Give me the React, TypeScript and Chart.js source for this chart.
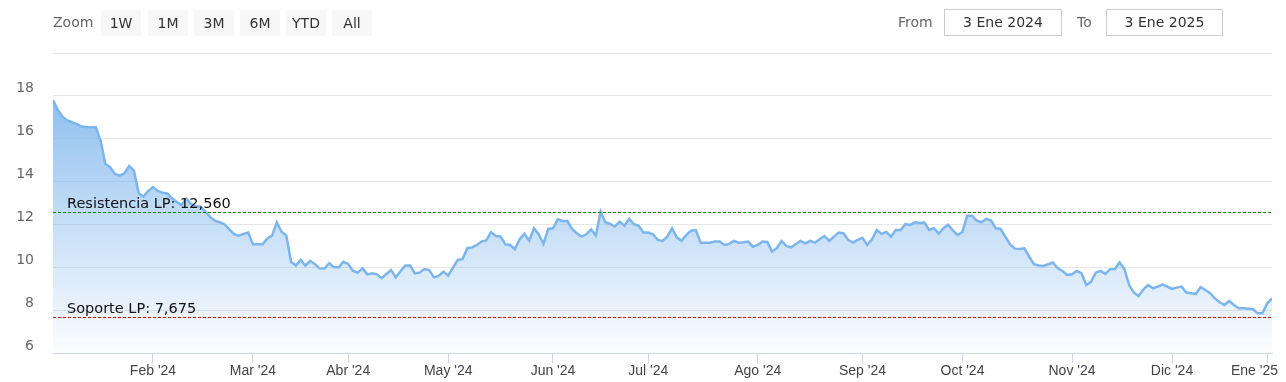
import React, { useEffect, useRef } from "react";
import { Chart, registerables } from "chart.js";
Chart.register(...registerables);

// Month tick labels (index 0 = first month in data, has no tick)
const monthLabels = ["Ene '24", "Feb '24", "Mar '24", "Abr '24", "May '24", "Jun '24", "Jul '24", "Ago '24", "Sep '24", "Oct '24", "Nov '24", "Dic '24", "Ene '25"];

// Daily closes per month (trading days)
const jan24 = [17.81, 17.34, 17.03, 16.85, 16.77, 16.68, 16.57, 16.55, 16.54, 16.54, 15.9, 14.82, 14.67, 14.36, 14.28, 14.39, 14.73, 14.51, 13.45, 13.3, 13.56];
const feb24 = [13.74, 13.56, 13.48, 13.45, 13.22, 13.05, 12.9, 13.2, 12.95, 12.85, 12.83, 12.6, 12.35, 12.18, 12.1, 12.01, 11.78, 11.56, 11.46, 11.56, 11.62];
const mar24 = [11.07, 11.07, 11.07, 11.35, 11.48, 12.1, 11.66, 11.48, 10.26, 10.08, 10.34, 10.08, 10.3, 10.14, 9.95, 9.94, 10.19, 10.0, 10.0, 10.26];
const abr24 = [10.15, 9.83, 9.75, 9.95, 9.67, 9.72, 9.67, 9.49, 9.69, 9.87, 9.53, 9.83, 10.08, 10.08, 9.72, 9.75, 9.92, 9.87, 9.53, 9.6, 9.8];
const may24 = [9.61, 9.98, 10.34, 10.38, 10.89, 10.93, 11.04, 11.2, 11.26, 11.64, 11.46, 11.44, 11.07, 11.04, 10.84, 11.31, 11.56, 11.24, 11.82, 11.54, 11.09, 11.79];
const jun24 = [11.82, 12.24, 12.16, 12.16, 11.79, 11.59, 11.43, 11.54, 11.77, 11.48, 12.6, 12.1, 12.02, 11.9, 12.13, 11.94, 12.26, 12.01, 11.94, 11.62];
const jul24 = [11.62, 11.54, 11.28, 11.23, 11.43, 11.82, 11.4, 11.24, 11.51, 11.71, 11.74, 11.15, 11.15, 11.15, 11.2, 11.2, 11.04, 11.09, 11.23, 11.15, 11.17, 11.2, 10.96];
const ago24 = [11.04, 11.2, 11.18, 10.73, 10.89, 11.23, 11.0, 10.93, 11.09, 11.23, 11.12, 11.23, 11.15, 11.31, 11.46, 11.23, 11.43, 11.62, 11.59, 11.28, 11.15, 11.28];
const sep24 = [11.38, 11.04, 11.31, 11.74, 11.56, 11.65, 11.43, 11.74, 11.74, 12.02, 11.98, 12.1, 12.07, 12.09, 11.74, 11.82, 11.57, 11.82, 11.99, 11.71, 11.51];
const oct24 = [11.66, 12.41, 12.41, 12.18, 12.1, 12.26, 12.18, 11.82, 11.79, 11.43, 11.07, 10.87, 10.85, 10.88, 10.5, 10.14, 10.08, 10.06, 10.14, 10.22, 9.95, 9.83, 9.64];
const nov24 = [9.67, 9.83, 9.72, 9.17, 9.33, 9.75, 9.83, 9.69, 9.91, 9.92, 10.23, 9.92, 9.17, 8.82, 8.66, 8.97, 9.17, 9.02, 9.1, 9.19, 9.1];
const dic24 = [8.99, 9.05, 9.1, 8.82, 8.79, 8.75, 9.07, 8.94, 8.79, 8.55, 8.37, 8.24, 8.43, 8.24, 8.09, 8.09, 8.07, 8.04, 7.85, 7.85];
const ene25 = [8.32, 8.55];

const monthSeries = [jan24, feb24, mar24, abr24, may24, jun24, jul24, ago24, sep24, oct24, nov24, dic24, ene25];

const yTicks = [6, 8, 10, 12, 14, 16, 18, 20];
const yMin = 6;
const yMax = 20;

const resistance = 12.56;
const support = 7.675;
const resistanceLabel = "Resistencia LP: 12,560";
const supportLabel = "Soporte LP: 7,675";

const zoomButtons = ["1W", "1M", "3M", "6M", "YTD", "All"];
const fromDate = "3 Ene 2024";
const toDate = "3 Ene 2025";

const values: number[] = monthSeries.flat();
const monthStarts: number[] = [];
{
  let acc = 0;
  for (const m of monthSeries) {
    monthStarts.push(acc);
    acc += m.length;
  }
}

const W = 1286;
const H = 382;

const overlayPlugin = {
  id: "overlayLines",
  afterDatasetsDraw(chart: any) {
    const { ctx, chartArea, scales } = chart;
    const y = scales.y;
    const lines = [
      { v: resistance, color: "#008a00", label: resistanceLabel },
      { v: support, color: "#e00000", label: supportLabel },
    ];
    ctx.save();
    for (const l of lines) {
      const py = Math.round(y.getPixelForValue(l.v)) + 0.5;
      ctx.beginPath();
      ctx.setLineDash([3, 2]);
      ctx.strokeStyle = l.color;
      ctx.lineWidth = 1;
      ctx.moveTo(chartArea.left, py);
      ctx.lineTo(chartArea.right, py);
      ctx.stroke();
      ctx.setLineDash([]);
      ctx.fillStyle = "#111";
      ctx.font = "14.5px 'DejaVu Sans'";
      ctx.textAlign = "left";
      ctx.textBaseline = "alphabetic";
      ctx.fillText(l.label, chartArea.left + 14, py - 4.5);
    }
    ctx.restore();
  },
  afterDraw(chart: any) {
    const { ctx, scales, chartArea } = chart;
    const x = scales.x;
    ctx.save();
    ctx.font = "14px 'Liberation Sans'";
    ctx.fillStyle = "#444";
    ctx.textAlign = "center";
    ctx.textBaseline = "middle";
    for (let m = 1; m < monthStarts.length; m++) {
      const px = x.getPixelForValue(monthStarts[m]);
      const text = monthLabels[m];
      const w = ctx.measureText(text).width;
      const cx = Math.min(px, chart.width - 8 - w / 2);
      ctx.fillText(text, cx, chartArea.bottom + 18);
    }
    ctx.restore();
  },
};

export default function App() {
  const canvasRef = useRef<HTMLCanvasElement | null>(null);

  useEffect(() => {
    document.body.style.margin = "0";
    const canvas = canvasRef.current;
    if (!canvas) return;
    const data = values.map((v, i) => ({ x: i, y: v }));
    const chart = new Chart(canvas, {
      type: "line",
      data: {
        datasets: [
          {
            data,
            borderColor: "#7cb5ec",
            borderWidth: 2.5,
            pointRadius: 0,
            tension: 0,
            fill: "start",
            backgroundColor: (context: any) => {
              const { chart } = context;
              const { ctx, chartArea } = chart;
              if (!chartArea) return "rgba(124,181,236,0.5)";
              const g = ctx.createLinearGradient(0, chartArea.top, 0, chartArea.bottom);
              g.addColorStop(0, "rgba(124,181,236,1)");
              g.addColorStop(1, "rgba(124,181,236,0.02)");
              return g;
            },
          },
        ],
      },
      options: {
        animation: false,
        responsive: false,
        devicePixelRatio: 1,
        layout: { padding: { top: 53, right: 14, bottom: 0, left: 0 } },
        plugins: { legend: { display: false }, tooltip: { enabled: false } },
        scales: {
          x: {
            type: "linear",
            min: 0,
            max: values.length - 1,
            afterBuildTicks: (s: any) => {
              s.ticks = monthStarts.slice(1).map((v) => ({ value: v }));
            },
            afterFit: (s: any) => {
              s.height = 29;
              s.paddingLeft = 0;
              s.paddingRight = 0;
            },
            ticks: { display: false },
            grid: {
              display: true,
              drawOnChartArea: false,
              drawTicks: true,
              tickLength: 10,
              color: "#ccd6eb",
              lineWidth: 1,
            },
            border: { display: true, color: "#ccd6eb", width: 1 },
          },
          y: {
            type: "linear",
            min: yMin,
            max: yMax,
            afterBuildTicks: (s: any) => {
              s.ticks = yTicks.map((v) => ({ value: v }));
            },
            afterFit: (s: any) => {
              s.width = 53;
            },
            ticks: {
              callback: (v: any) => (v === yMax ? "" : String(v)),
              font: { family: "DejaVu Sans", size: 14 },
              color: "#666",
              padding: 19,
              labelOffset: -7,
            },
            grid: { color: "#e6e6e6", drawTicks: false, lineWidth: 1 },
            border: { display: false },
          },
        },
      },
      plugins: [overlayPlugin],
    } as any);
    return () => chart.destroy();
  }, []);

  const btnLefts = [101, 148, 194, 240, 286, 332];

  return (
    <div style={{ position: "relative", width: W, height: H, fontFamily: "'DejaVu Sans', sans-serif", background: "#fff" }}>
      <canvas ref={canvasRef} width={W} height={H} style={{ position: "absolute", left: 0, top: 0, width: W, height: H, display: "block" }} />
      <div style={{ position: "absolute", left: 53, top: 9, height: 27, lineHeight: "27px", fontSize: 14, color: "#666" }}>Zoom</div>
      {zoomButtons.map((b, i) => (
        <div
          key={b}
          style={{
            position: "absolute",
            left: btnLefts[i],
            top: 10,
            width: 40,
            height: 26,
            lineHeight: "26px",
            background: "#f7f7f7",
            borderRadius: 2,
            textAlign: "center",
            fontSize: 14,
            color: "#333",
          }}
        >
          {b}
        </div>
      ))}
      <div style={{ position: "absolute", left: 898, top: 9, height: 27, lineHeight: "27px", fontSize: 14, color: "#666" }}>From</div>
      <div
        style={{
          position: "absolute",
          left: 944,
          top: 9,
          width: 118,
          height: 27,
          boxSizing: "border-box",
          border: "1px solid #ccc",
          lineHeight: "25px",
          textAlign: "center",
          fontSize: 14,
          color: "#333",
        }}
      >
        {fromDate}
      </div>
      <div style={{ position: "absolute", left: 1077, top: 9, height: 27, lineHeight: "27px", fontSize: 14, color: "#666" }}>To</div>
      <div
        style={{
          position: "absolute",
          left: 1106,
          top: 9,
          width: 117,
          height: 27,
          boxSizing: "border-box",
          border: "1px solid #ccc",
          lineHeight: "25px",
          textAlign: "center",
          fontSize: 14,
          color: "#333",
        }}
      >
        {toDate}
      </div>
    </div>
  );
}
